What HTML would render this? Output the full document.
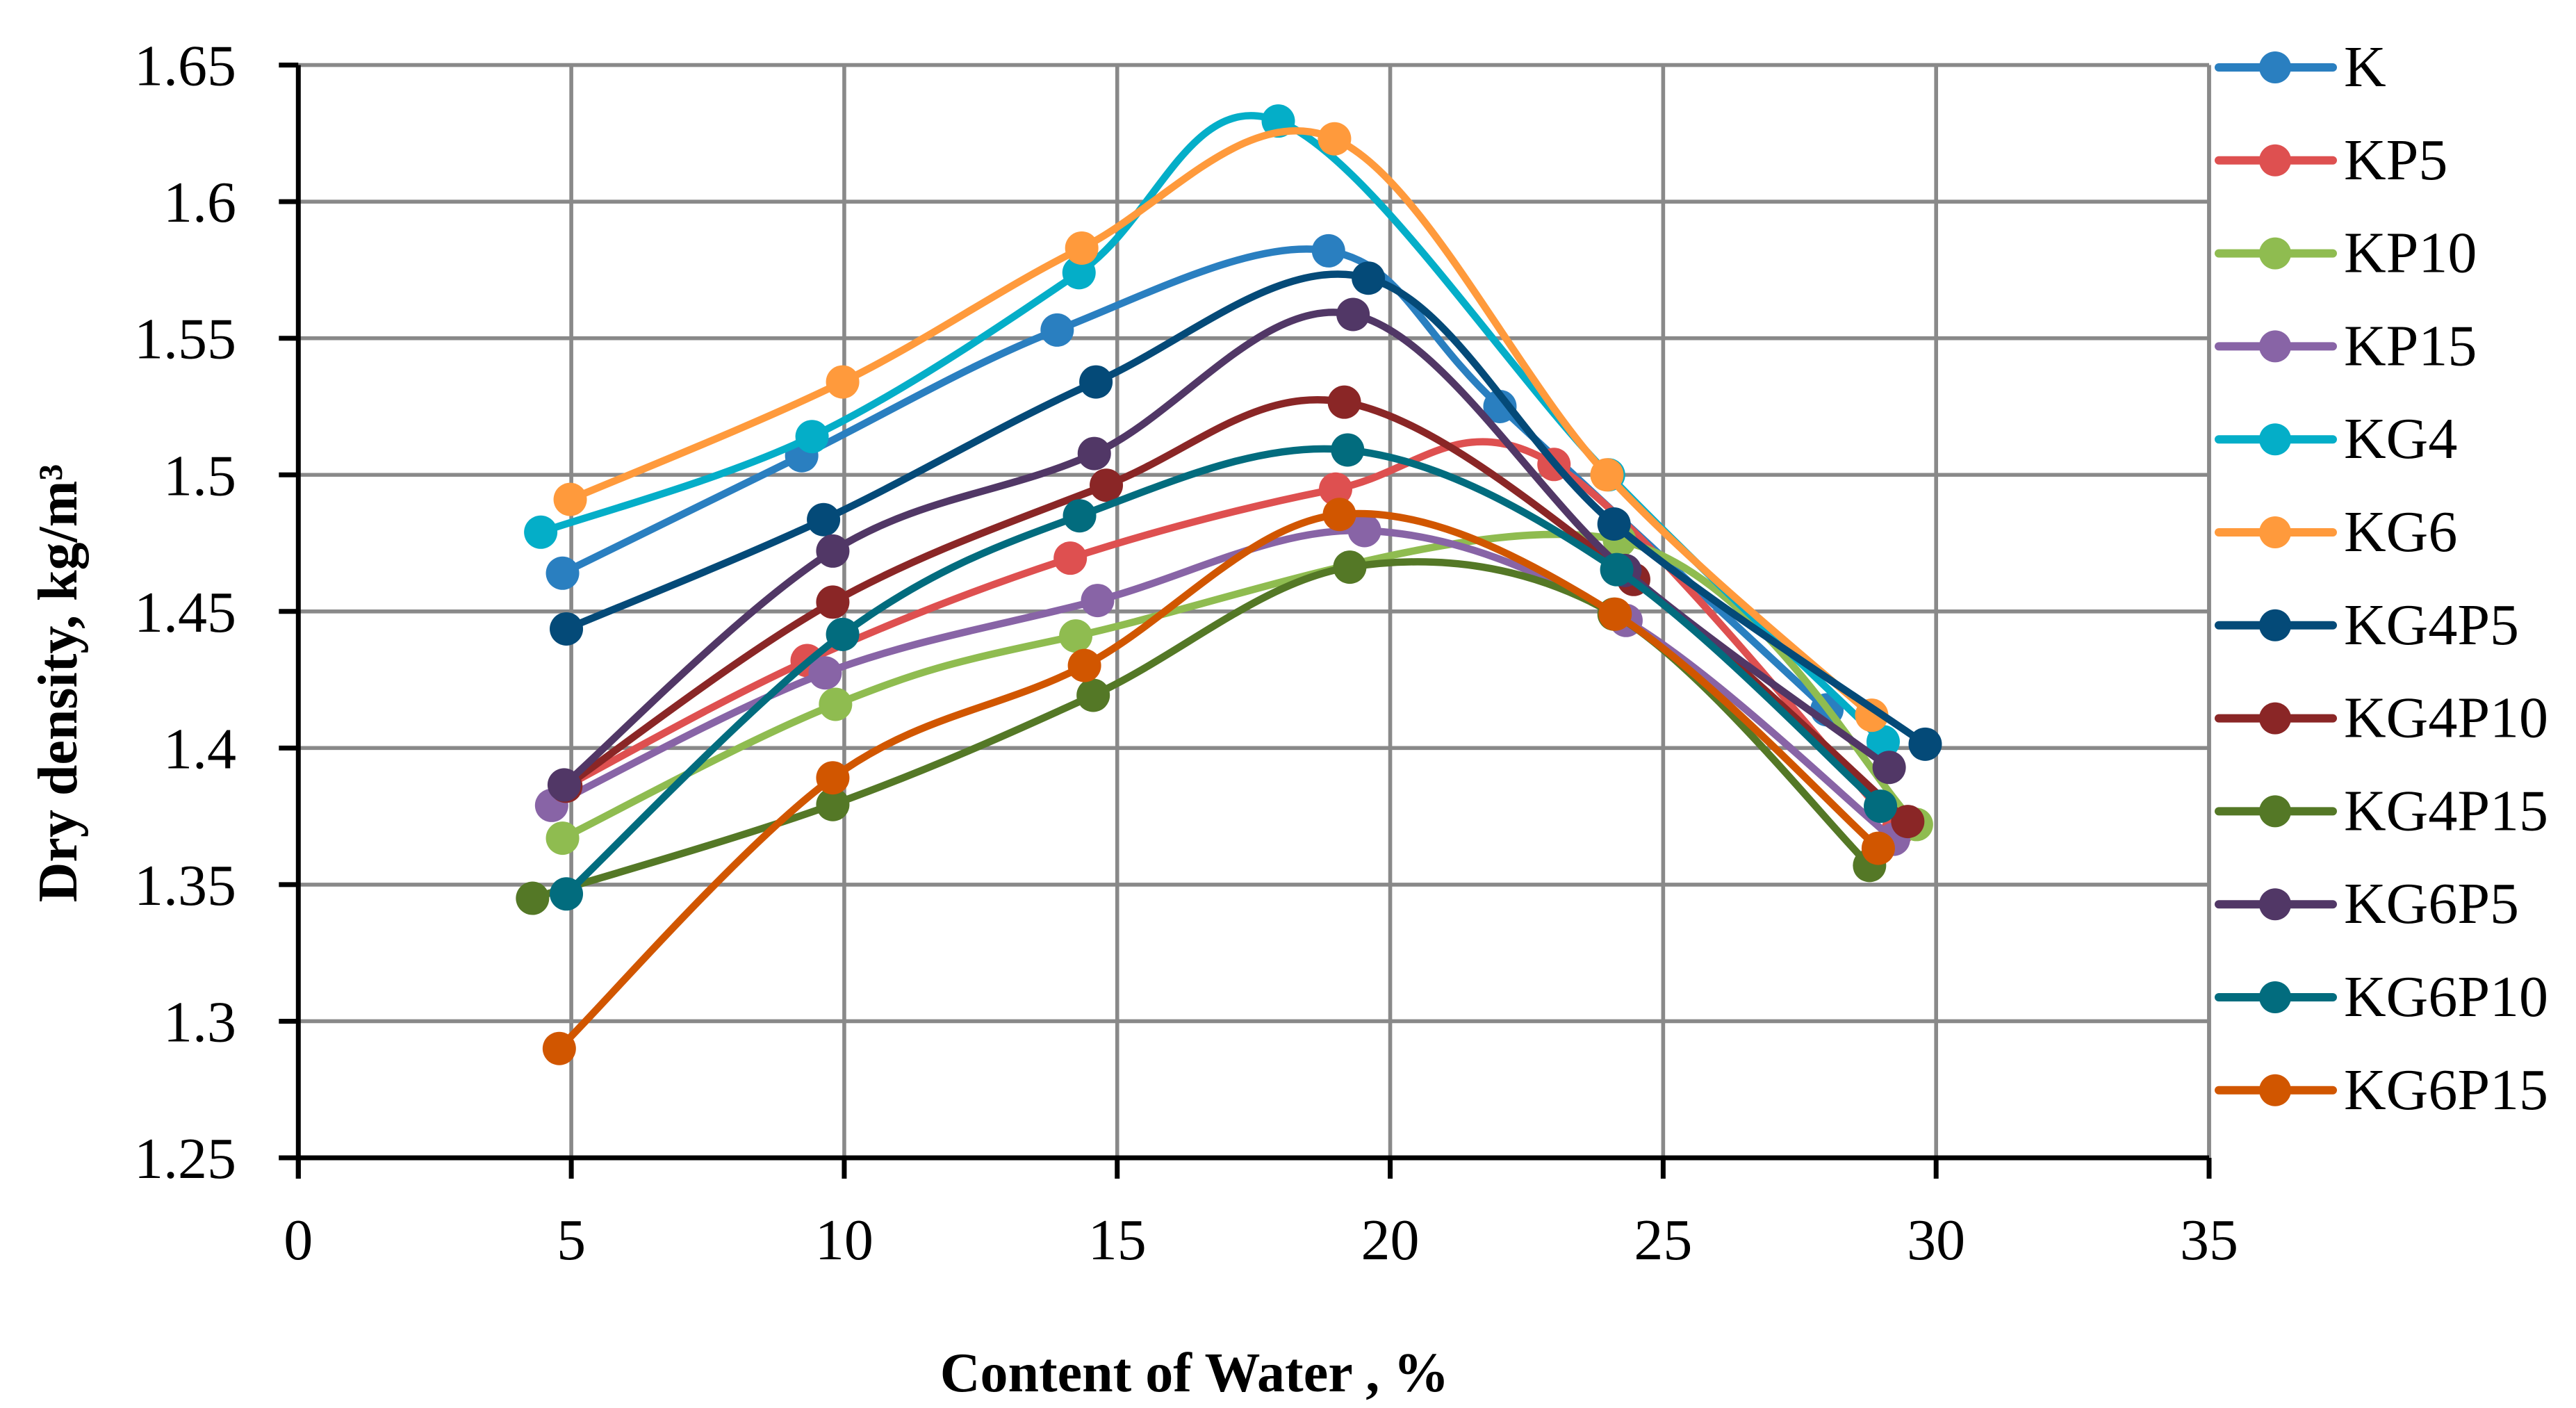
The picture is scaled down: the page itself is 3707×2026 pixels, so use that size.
<!DOCTYPE html>
<html><head><meta charset="utf-8"><style>
html,body{margin:0;padding:0;background:#fff;}
svg{display:block;font-family:"Liberation Serif",serif;}
</style></head><body>
<svg id="chart" width="3707" height="2026" viewBox="0 0 3707 2026" xmlns="http://www.w3.org/2000/svg">
<g id="grid"></g>
<g id="series"></g>
<g id="axes"></g>
<g id="legend"></g>
<text x="1719" y="2002" text-anchor="middle" font-size="80" font-weight="bold">Content of Water , %</text>
<text transform="translate(110,983) rotate(-90)" text-anchor="middle" font-size="80" font-weight="bold">Dry density, kg/m³</text>
</svg>
<script>
const xTicks=[0,5,10,15,20,25,30,35];
const yTicks=[1.25,1.3,1.35,1.4,1.45,1.5,1.55,1.6,1.65];
const yTickLabels=["1.25","1.3","1.35","1.4","1.45","1.5","1.55","1.6","1.65"];
const seriesNames=["K","KP5","KP10","KP15","KG4","KG6","KG4P5","KG4P10","KG4P15","KG6P5","KG6P10","KG6P15"];
const seriesColors=["#2A7FC0","#DE5050","#8FBC50","#8864A6","#04AEC8","#FF9A3C","#044A78","#8A2626","#547826","#513766","#026C7E","#D15600"];
const xK=[4.84,9.22,13.9,18.87,22.01,28.0];
const yK=[1.464,1.507,1.553,1.582,1.525,1.414];
const xKP5=[4.9,9.32,14.14,19.0,23.0,29.3];
const yKP5=[1.386,1.432,1.4695,1.4948,1.5038,1.370];
const xKP10=[4.84,9.84,14.24,24.2,29.64];
const yKP10=[1.367,1.416,1.441,1.476,1.372];
const xKP15=[4.64,9.65,14.64,19.53,24.32,29.22];
const yKP15=[1.379,1.4275,1.454,1.4796,1.4467,1.3666];
const xKG4=[4.44,9.41,14.3,17.95,24.0,29.03];
const yKG4=[1.479,1.514,1.574,1.6295,1.500,1.4023];
const xKG6=[4.98,9.97,14.35,18.98,23.97,28.82];
const yKG6=[1.491,1.534,1.583,1.623,1.500,1.412];
const xKG4P5=[4.91,9.62,14.61,19.6,24.1,29.8];
const yKG4P5=[1.4436,1.4836,1.534,1.572,1.482,1.4014];
const xKG4P10=[4.9,9.79,14.8,19.16,24.46,29.48];
const yKG4P10=[1.386,1.4534,1.4962,1.5266,1.4617,1.3731];
const xKG4P15=[4.29,9.79,14.56,19.26,24.1,28.78];
const yKG4P15=[1.345,1.3793,1.4193,1.4662,1.449,1.357];
const xKG6P5=[4.87,9.79,14.58,19.32,24.3,29.14];
const yKG6P5=[1.3865,1.4721,1.5078,1.5587,1.465,1.3929];
const xKG6P10=[4.91,9.97,14.31,19.22,24.15,28.98];
const yKG6P10=[1.3466,1.4416,1.485,1.5091,1.4653,1.3787];
const xKG6P15=[4.78,9.79,14.4,19.07,24.12,28.94];
const yKG6P15=[1.290,1.3891,1.4302,1.4855,1.449,1.3633];
const seriesX=[xK,xKP5,xKP10,xKP15,xKG4,xKG6,xKG4P5,xKG4P10,xKG4P15,xKG6P5,xKG6P10,xKG6P15];
const seriesY=[yK,yKP5,yKP10,yKP15,yKG4,yKG6,yKG4P5,yKG4P10,yKG4P15,yKG6P5,yKG6P10,yKG6P15];

const NS="http://www.w3.org/2000/svg";
const X0=429.3,XR=3179,YT=93.6,YB=1666,xMin=0,xMax=35,yMin=1.25,yMax=1.65;
function sx(v){return X0+(v-xMin)/(xMax-xMin)*(XR-X0);}
function sy(v){return YB-(v-yMin)/(yMax-yMin)*(YB-YT);}
function mk(tag,attrs,parent){const e=document.createElementNS(NS,tag);for(const k in attrs)e.setAttribute(k,attrs[k]);parent.appendChild(e);return e;}
const grid=document.getElementById('grid'),axes=document.getElementById('axes'),ser=document.getElementById('series'),leg=document.getElementById('legend');
xTicks.forEach((t,i)=>{
  if(t!==0){const l=mk('line',{x1:sx(t),x2:sx(t),y1:YT,y2:YB,stroke:'#898989','stroke-width':5.6},grid);
  
  }
  const tk=mk('line',{x1:sx(t),x2:sx(t),y1:YB,y2:YB+30,stroke:'#000','stroke-width':7},axes);
  
  
  const tx=mk('text',{x:sx(t),y:1812,'text-anchor':'middle','font-size':84},axes);
  tx.textContent=String(t);
  
  
});
yTicks.forEach((t,i)=>{
  if(i>0){const l=mk('line',{x1:X0,x2:XR,y1:sy(t),y2:sy(t),stroke:'#898989','stroke-width':5.6},grid);
  
  }
  const tk=mk('line',{x1:X0-28,x2:X0,y1:sy(t),y2:sy(t),stroke:'#000','stroke-width':7},axes);
  
  
  const tx=mk('text',{x:340,y:sy(t)+29,'text-anchor':'end','font-size':84},axes);
  tx.textContent=yTickLabels[i];
  
  
});
const rb=mk('line',{x1:XR,x2:XR,y1:YT,y2:YB,stroke:'#898989','stroke-width':5.6},grid);


const xa=mk('line',{x1:X0-28,x2:XR,y1:YB,y2:YB,stroke:'#000','stroke-width':7},axes);


const ya=mk('line',{x1:X0,x2:X0,y1:YT,y2:YB+30,stroke:'#000','stroke-width':7},axes);



function smoothPath(pts){
  let d='M'+pts[0][0]+','+pts[0][1];
  for(let i=0;i<pts.length-1;i++){
    const p0=pts[i-1]||pts[i],p1=pts[i],p2=pts[i+1],p3=pts[i+2]||p2;
    const c1=[p1[0]+(p2[0]-p0[0])/6,p1[1]+(p2[1]-p0[1])/6];
    const c2=[p2[0]-(p3[0]-p1[0])/6,p2[1]-(p3[1]-p1[1])/6];
    d+=' C'+c1[0]+','+c1[1]+' '+c2[0]+','+c2[1]+' '+p2[0]+','+p2[1];
  }
  return d;
}
seriesNames.forEach((name,si)=>{
  const g=mk('g',{},ser);
  
  
  const pts=seriesX[si].map((x,j)=>[sx(x),sy(seriesY[si][j])]);
  const p=mk('path',{d:smoothPath(pts),fill:'none',stroke:seriesColors[si],'stroke-width':10.5,'stroke-linecap':'round','stroke-linejoin':'round'},g);
  
  
  pts.forEach(q=>{
    const c=mk('circle',{cx:q[0],cy:q[1],r:24,fill:seriesColors[si]},g);
    
    
  });
  const ly=97+si*133.8;
  const lg=mk('g',{},leg);
  
  
  mk('line',{x1:3193,x2:3357,y1:ly,y2:ly,stroke:seriesColors[si],'stroke-width':12,'stroke-linecap':'round'},lg);
  mk('circle',{cx:3274,cy:ly,r:23,fill:seriesColors[si]},lg);
  const t=mk('text',{x:3373,y:ly+27,'font-size':84},lg);
  t.textContent=name;
});
</script>
</body></html>
